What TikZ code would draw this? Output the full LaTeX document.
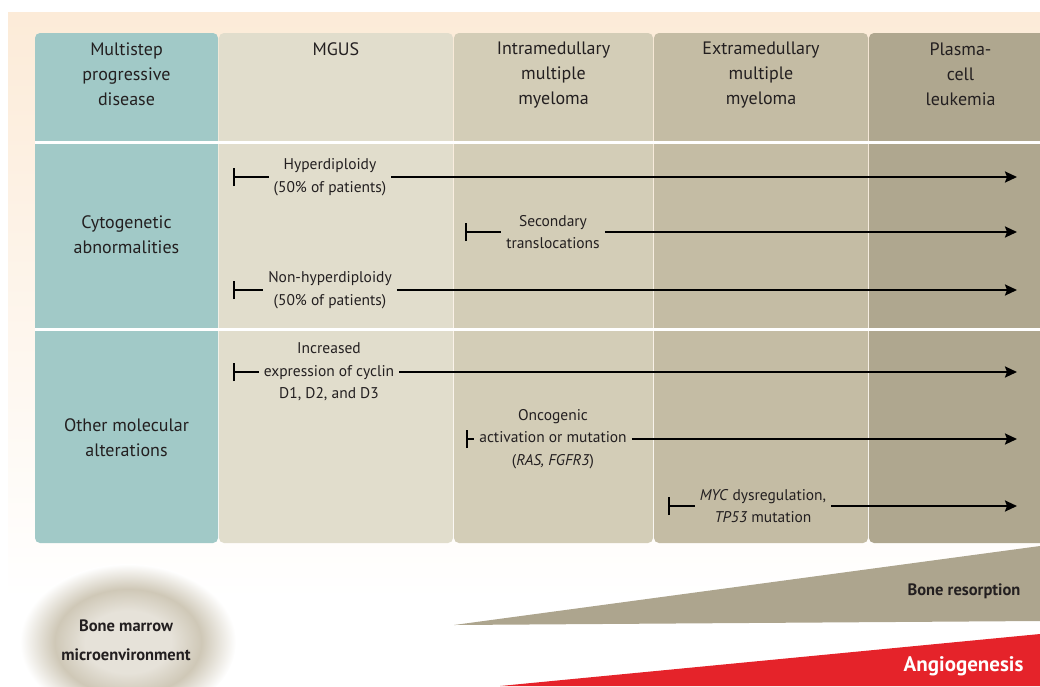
\documentclass[tikz,border=0pt]{standalone}
\usepackage{fontspec}
\setmainfont{PT Sans}
\usetikzlibrary{positioning}
\usetikzlibrary{arrows.meta}
\usetikzlibrary{calc}

\definecolor{peach}{HTML}{FCEBD8}
\definecolor{stagea}{HTML}{A1C9C7}
\definecolor{stageb}{HTML}{E1DDCC}
\definecolor{stagec}{HTML}{D3CDB7}
\definecolor{staged}{HTML}{C4BCA4}
\definecolor{stagee}{HTML}{AFA78F}
\definecolor{bonegray}{HTML}{ADA58E}
\definecolor{angired}{HTML}{E5232A}
\definecolor{marrowin}{HTML}{E6E2D9}
\definecolor{marrowmid}{HTML}{CFC8B7}
\definecolor{ink}{HTML}{231F20}

\pgfdeclareradialshading{marrow}{\pgfpoint{0bp}{0bp}}{color(0bp)=(marrowin); color(10bp)=(marrowin); color(17bp)=(marrowmid); color(25bp)=(white); color(50bp)=(white)}

\begin{document}
\begin{tikzpicture}[x=1pt, y=-1pt,
  stage/.style={rectangle, rounded corners=5pt, minimum height=510pt, inner sep=0pt},
  head/.style={font=\fontsize{18}{25}\selectfont, align=center, text=ink},
  rowlab/.style={font=\fontsize{18}{25}\selectfont, align=center, text=ink},
  note/.style={font=\fontsize{15.5}{22.5}\selectfont, align=center, text=ink, inner sep=5pt},
  startbar/.style={line width=2.2pt, {Bar[width=18pt,line width=2pt]}-},
  endarrow/.style={line width=2.2pt, -{Stealth[length=12pt,width=11pt,inset=2pt]}},
  sep/.style={white, line width=3pt}]
\useasboundingbox (0,0) rectangle (1040,686);
\clip (0,0) rectangle (1040,686);

% background
\shade[top color=peach, bottom color=white] (8,12) rectangle (1040,600);

% stages
\node[stage, fill=stagea, minimum width=183pt] (colA) at (126.5,288) {};
\node[stage, fill=stageb, minimum width=234pt] (colB) at (336,288) {};
\node[stage, fill=stagec, minimum width=199pt] (colC) at (553.5,288) {};
\node[stage, fill=staged, minimum width=214pt] (colD) at (761,288) {};
\node[stage, fill=stagee, minimum width=191pt] (colE) at (964.5,288) {};

\draw[sep] (35,142) -- (1040,142);
\draw[sep] (35,329) -- (1040,329);

% headers
\node[head, below=6pt of colA.north] (headA) {Multistep\\progressive\\disease};
\node[head, below=6pt of colB.north] (headB) {MGUS};
\node[head, below=6pt of colC.north] (headC) {Intramedullary\\multiple\\myeloma};
\node[head, below=6pt of colD.north] (headD) {Extramedullary\\multiple\\myeloma};
\node[head, below=6pt of colE.north, xshift=-4pt] (headE) {Plasma-\\cell\\leukemia};

\node[rowlab] (cyto) at (126.5,235) {Cytogenetic\\abnormalities};
\node[rowlab] (other) at (126.5,438) {Other molecular\\alterations};

% events
\node[note] (hyper) at (330,177) {Hyperdiploidy\\(50\% of patients)};
\node[note] (second) at (553,232) {Secondary\\translocations};
\node[note] (nonhyper) at (330,290) {Non-hyperdiploidy\\(50\% of patients)};
\node[note] (cyclin) at (329,372) {Increased\\expression of cyclin\\D1, D2, and D3};
\node[note] (onco) at (553,439) {Oncogenic\\activation or mutation\\(\textit{RAS, FGFR3})};
\node[note] (myc) at (763,506) {\textit{MYC} dysregulation,\\\textit{TP53} mutation};

\coordinate (hyperS) at (233,177);
\coordinate (hyperE) at (1017,177);
\coordinate (secondS) at (465,232);
\coordinate (secondE) at (1017,232);
\coordinate (nonhyperS) at (233,290);
\coordinate (nonhyperE) at (1017,290);
\coordinate (cyclinS) at (233,372);
\coordinate (cyclinE) at (1017,372);
\coordinate (oncoS) at (466,439);
\coordinate (oncoE) at (1017,439);
\coordinate (mycS) at (668,506);
\coordinate (mycE) at (1017,506);

\draw[startbar] (hyperS) -- (hyperS -| hyper.west);
\draw[endarrow] (hyperS -| hyper.east) -- (hyperE);
\draw[startbar] (secondS) -- (secondS -| second.west);
\draw[endarrow] (secondS -| second.east) -- (secondE);
\draw[startbar] (nonhyperS) -- (nonhyperS -| nonhyper.west);
\draw[endarrow] (nonhyperS -| nonhyper.east) -- (nonhyperE);
\draw[startbar] (cyclinS) -- (cyclinS -| cyclin.west);
\draw[endarrow] (cyclinS -| cyclin.east) -- (cyclinE);
\draw[startbar] (oncoS) -- (oncoS -| onco.west);
\draw[endarrow] (oncoS -| onco.east) -- (oncoE);
\draw[startbar] (mycS) -- (mycS -| myc.west);
\draw[endarrow] (mycS -| myc.east) -- (mycE);

% microenvironment
\fill[bonegray] (454,625) -- (1040,546) -- (1040,621) -- cycle;
\fill[angired] (500,686) -- (1040,634) -- (1040,686) -- cycle;
\shade[shading=marrow] (128,642) ellipse [x radius=108pt, y radius=78pt];

\node[font=\bfseries\fontsize{16.5}{20}\selectfont, text=ink, anchor=east] (boneres) at (1024,591) {Bone resorption};
\node[font=\bfseries\fontsize{21}{24}\selectfont, text=white, anchor=east] (angio) at (1027,666) {Angiogenesis};
\node[font=\bfseries\fontsize{16.5}{29}\selectfont, text=ink, align=center] (marrow) at (126,640) {Bone marrow\\microenvironment};
\end{tikzpicture}
\end{document}
